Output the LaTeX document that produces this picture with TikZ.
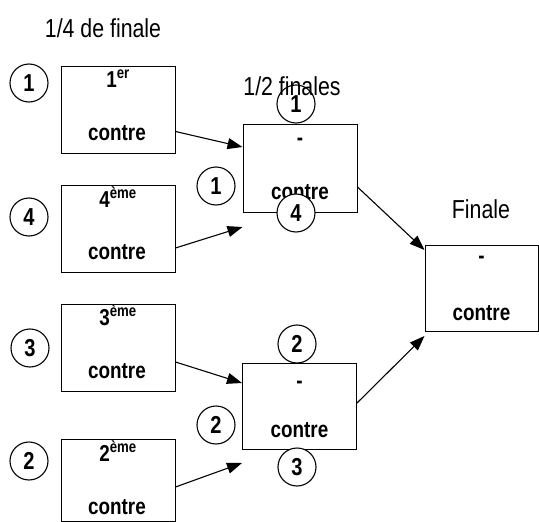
\documentclass[tikz,border=0pt]{standalone}
\usepackage{fontspec}
\setmainfont[FakeStretch=0.82]{Liberation Sans}
\usepackage{tikz}
\usetikzlibrary{arrows.meta}

\tikzset{
  boite/.style={draw, line width=1pt, minimum width=114pt, minimum height=87pt, inner sep=0pt},
  txt/.style={font=\bfseries\fontsize{23}{24}\selectfont, inner sep=0pt},
  rond/.style={draw, circle, fill=white, line width=1.1pt, minimum size=38pt, inner sep=0pt,
    font=\bfseries\fontsize{24.5}{25}\selectfont},
  titre/.style={font=\fontsize{26}{27}\selectfont, inner sep=0pt},
  fleche/.style={-{Triangle[length=15pt,width=11pt]}, line width=1.1pt}
}

\begin{document}
\begin{tikzpicture}[x=1pt,y=-1pt]
\useasboundingbox (0,0) rectangle (539,522);

% 1/4 de finale
\node[titre] (t1) at (103,28) {1/4 de finale};

\node[boite] (q1) at (118,109.5) {};
\node[txt] (q1a) at (118,79) {1\textsuperscript{er}};
\node[txt] (q1b) at (117,133) {contre};

\node[boite] (q4) at (118,228.5) {};
\node[txt] (q4a) at (118,197) {4\textsuperscript{ème}};
\node[txt] (q4b) at (117,252) {contre};

\node[boite] (q3) at (118,347.5) {};
\node[txt] (q3a) at (118,315) {3\textsuperscript{ème}};
\node[txt] (q3b) at (117,371) {contre};

\node[boite, minimum height=82pt] (q2) at (118,480) {};
\node[txt] (q2a) at (118,451) {2\textsuperscript{ème}};
\node[txt] (q2b) at (117,507) {contre};

\node[rond] (r1) at (29,83) {1};
\node[rond] (r4) at (29,217) {4};
\node[rond] (r3) at (30,348) {3};
\node[rond] (r2) at (29,461) {2};

% 1/2 finales
\node[boite, minimum height=88pt] (s1) at (300,168) {};
\node[txt] (s1a) at (300,142) {-};
\node[txt] (s1b) at (300,192) {contre};

\node[boite, minimum height=86pt] (s2) at (299.5,406) {};
\node[txt] (s2a) at (299.5,385) {-};
\node[txt] (s2b) at (299.5,430) {contre};

\node[rond] (h1) at (296,104) {1};
\node[rond] (g1) at (216,186) {1};
\node[rond] (b4) at (296,213) {4};

\node[rond] (h2) at (297,344) {2};
\node[rond] (g2) at (216,425) {2};
\node[rond] (b3) at (297,467) {3};

\node[titre] (t2) at (292,86) {1/2 finales};

% finale
\node[titre] (t3) at (481,209) {Finale};
\node[boite, minimum width=113pt, minimum height=86pt] (f) at (481.5,288) {};
\node[txt] (fa) at (481.5,260) {-};
\node[txt] (fb) at (481.5,313) {contre};

\draw[fleche] ([yshift=-22pt]q1.east) -- ([yshift=21pt]s1.west);
\draw[fleche] ([yshift=-19.5pt]q4.east) -- ([yshift=-59pt]s1.west);
\draw[fleche] ([yshift=-14.5pt]q3.east) -- ([yshift=23pt]s2.west);
\draw[fleche] ([yshift=-7pt]q2.east) -- ([yshift=-57pt]s2.west);
\draw[fleche] ([yshift=-19pt]s1.east) -- ([yshift=38pt]f.west);
\draw[fleche] ([yshift=3pt]s2.east) -- ([yshift=-48pt]f.west);
\end{tikzpicture}
\end{document}
